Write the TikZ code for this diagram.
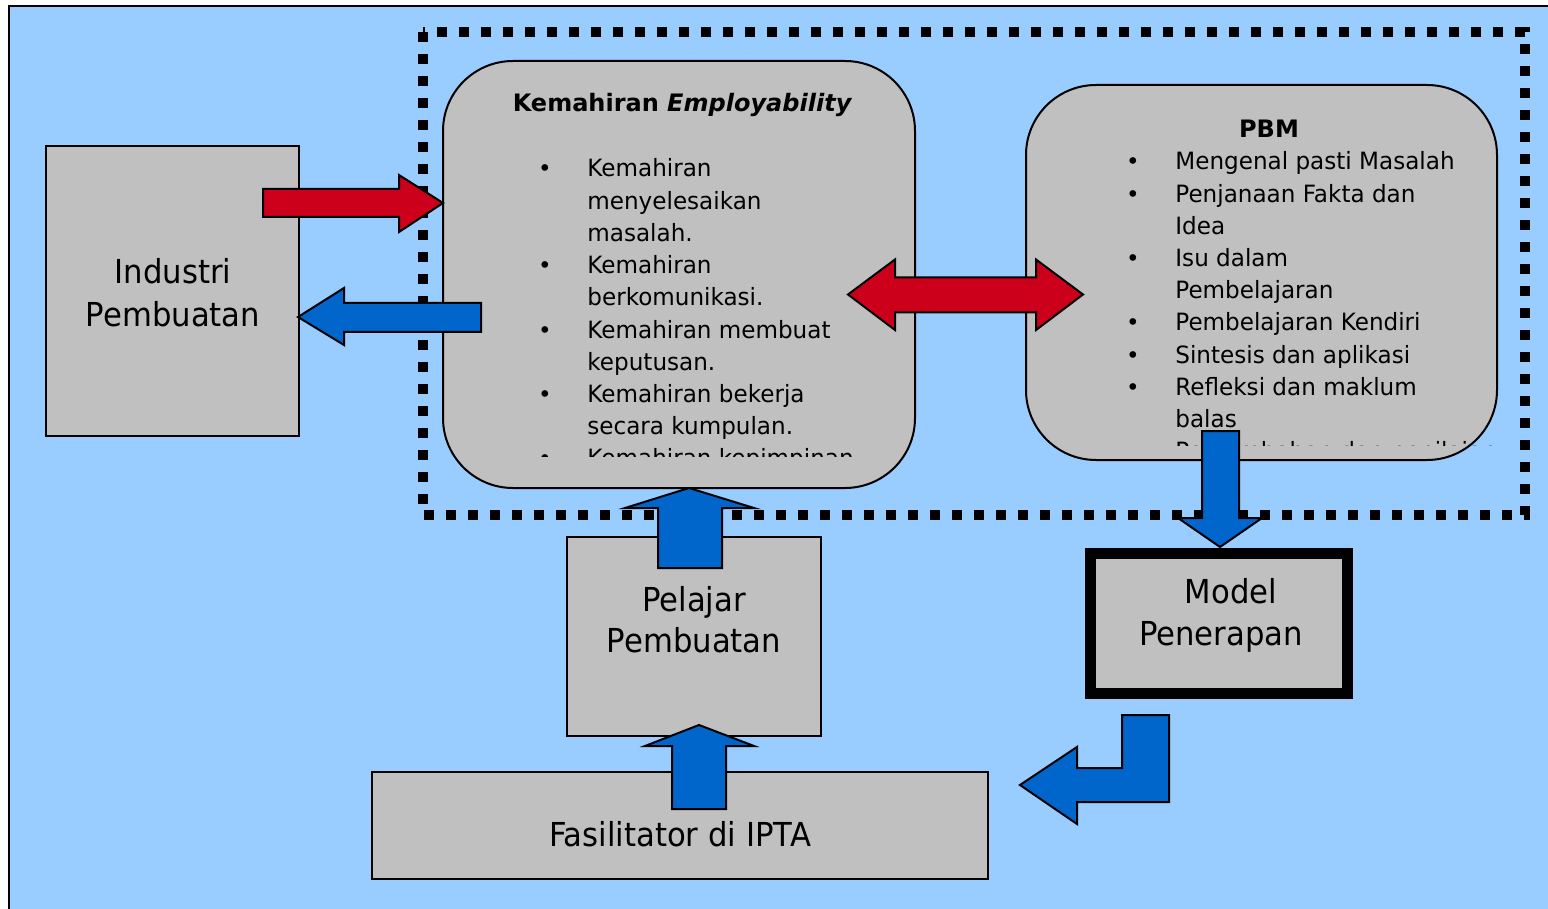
\documentclass[tikz,border=0pt]{standalone}
\usepackage{fontspec}
\setmainfont{DejaVu Sans}
\newfontfamily\bigfont[FakeStretch=0.93]{DejaVu Sans}
\newfontfamily\itemfont[FakeStretch=0.97]{DejaVu Sans}
\definecolor{bgblue}{RGB}{153,204,255}
\definecolor{boxgray}{RGB}{192,192,192}
\definecolor{arrred}{RGB}{204,0,26}
\definecolor{arrblue}{RGB}{0,102,204}
\tikzset{
  box/.style={draw=black, line width=1pt, fill=boxgray, inner sep=0pt, outer sep=0pt},
  rbox/.style={box, rounded corners=35pt},
  item/.style={font=\itemfont\fontsize{11.9}{14}\selectfont, inner sep=0pt, anchor=base west},
  bul/.style={font=\fontsize{11.5}{14}\selectfont, inner sep=0pt, anchor=base},
  big/.style={font=\bigfont\fontsize{16.5}{21}\selectfont, inner sep=0pt, anchor=base},
  ttl/.style={font=\fontsize{12}{14}\selectfont\bfseries, inner sep=0pt, anchor=base},
  blk/.style={draw=black, line width=1pt, line join=miter},
  redarrow/.style={blk, fill=arrred},
  bluearrow/.style={blk, fill=arrblue},
  dotframe/.style={draw=black, line width=5pt, dash pattern=on 5pt off 6pt}
}
\begin{document}
\begin{tikzpicture}[x=0.5pt,y=-0.5pt]
\useasboundingbox (0,0) rectangle (1548,909);
\clip (0,0) rectangle (1548,909);
\fill[white] (0,0) rectangle (1548,909);
\draw[fill=bgblue, line width=0.8pt] (9,6) rectangle (1600,960);
% dotted frame
\draw[dotframe] (423,32) rectangle (1525,515);
% boxes
\node[box, minimum width=126.5pt, minimum height=145pt] (ind) at (172.5,291) {};
\node[rbox, minimum width=236pt, minimum height=213.5pt] (kem) at (679,274.5) {};
\node[rbox, minimum width=235.5pt, minimum height=187.5pt] (pbm) at (1261.5,272.5) {};
\node[box, minimum width=127pt, minimum height=99.5pt] (pel) at (694,636.5) {};
\node[box, minimum width=308pt, minimum height=53.5pt] (fas) at (680,825.5) {};
\node[box, line width=5.5pt, minimum width=128.5pt, minimum height=70pt] (mod) at (1219,623.5) {};
% big labels
\node[big] (ind1) at (173,284) {Industri};
\node[big] (ind2) at (173,327) {Pembuatan};
\node[big] (pel1) at (694,611) {Pelajar};
\node[big] (pel2) at (694,652) {Pembuatan};
\node[big] (mod1) at (1231,603) {Model};
\node[big] (mod2) at (1221,645) {Penerapan};
\node[big] (fas1) at (680,846) {Fasilitator di IPTA};
% Kemahiran text
\node[ttl] (kemt) at (682.5,112) {Kemahiran \textit{Employability}};
\begin{scope}
\clip (443,61) rectangle (915,456);
\foreach \t [count=\i from 0] in {Kemahiran,menyelesaikan,masalah.,Kemahiran,berkomunikasi.,Kemahiran membuat,keputusan.,Kemahiran bekerja,secara kumpulan.,Kemahiran kepimpinan}
  \node[item] (k\i) at (587,177+32.2*\i) {\t};
\foreach \i in {0,3,5,7,9}
  \node[bul] (kb\i) at (545,177+32.2*\i) {•};
\end{scope}
% PBM text
\node[ttl] (pbmt) at (1269,138) {PBM};
\begin{scope}
\clip (1026,85) rectangle (1497,445);
\foreach \t [count=\i from 0] in {Mengenal pasti Masalah,Penjanaan Fakta dan,Idea,Isu dalam,Pembelajaran,Pembelajaran Kendiri,Sintesis dan aplikasi,Refleksi dan maklum,balas,Persembahan dan penilaian}
  \node[item] (p\i) at (1175,170+32.2*\i) {\t};
\foreach \i in {0,1,3,5,6,7}
  \node[bul] (pb\i) at (1133,170+32.2*\i) {•};
\end{scope}
% arrows
\draw[redarrow] (263,189) -- (399,189) -- (399,175) -- (443,203) -- (399,232) -- (399,217) -- (263,217) -- cycle;
\draw[bluearrow] (481,303) -- (344,303) -- (344,288) -- (298,317) -- (344,345) -- (344,332) -- (481,332) -- cycle;
\draw[redarrow] (848,294.5) -- (895,259.5) -- (895,277.5) -- (1036,277.5) -- (1036,259.5) -- (1083,294.5) -- (1036,330) -- (1036,312.5) -- (895,312.5) -- (895,330) -- cycle;
\draw[bluearrow] (658,568) -- (658,508) -- (625,508) -- (689,488) -- (754,508) -- (722,508) -- (722,568) -- cycle;
\draw[bluearrow] (672,809) -- (672,746) -- (645,746) -- (699,725) -- (754,746) -- (726,746) -- (726,809) -- cycle;
\draw[bluearrow] (1202,431) -- (1239,431) -- (1239,518) -- (1262,518) -- (1220,547) -- (1178,518) -- (1202,518) -- cycle;
\draw[bluearrow] (1169,715) -- (1169,802) -- (1077,802) -- (1077,824) -- (1020,785) -- (1077,747) -- (1077,768) -- (1122,768) -- (1122,715) -- cycle;
\end{tikzpicture}
\end{document}
